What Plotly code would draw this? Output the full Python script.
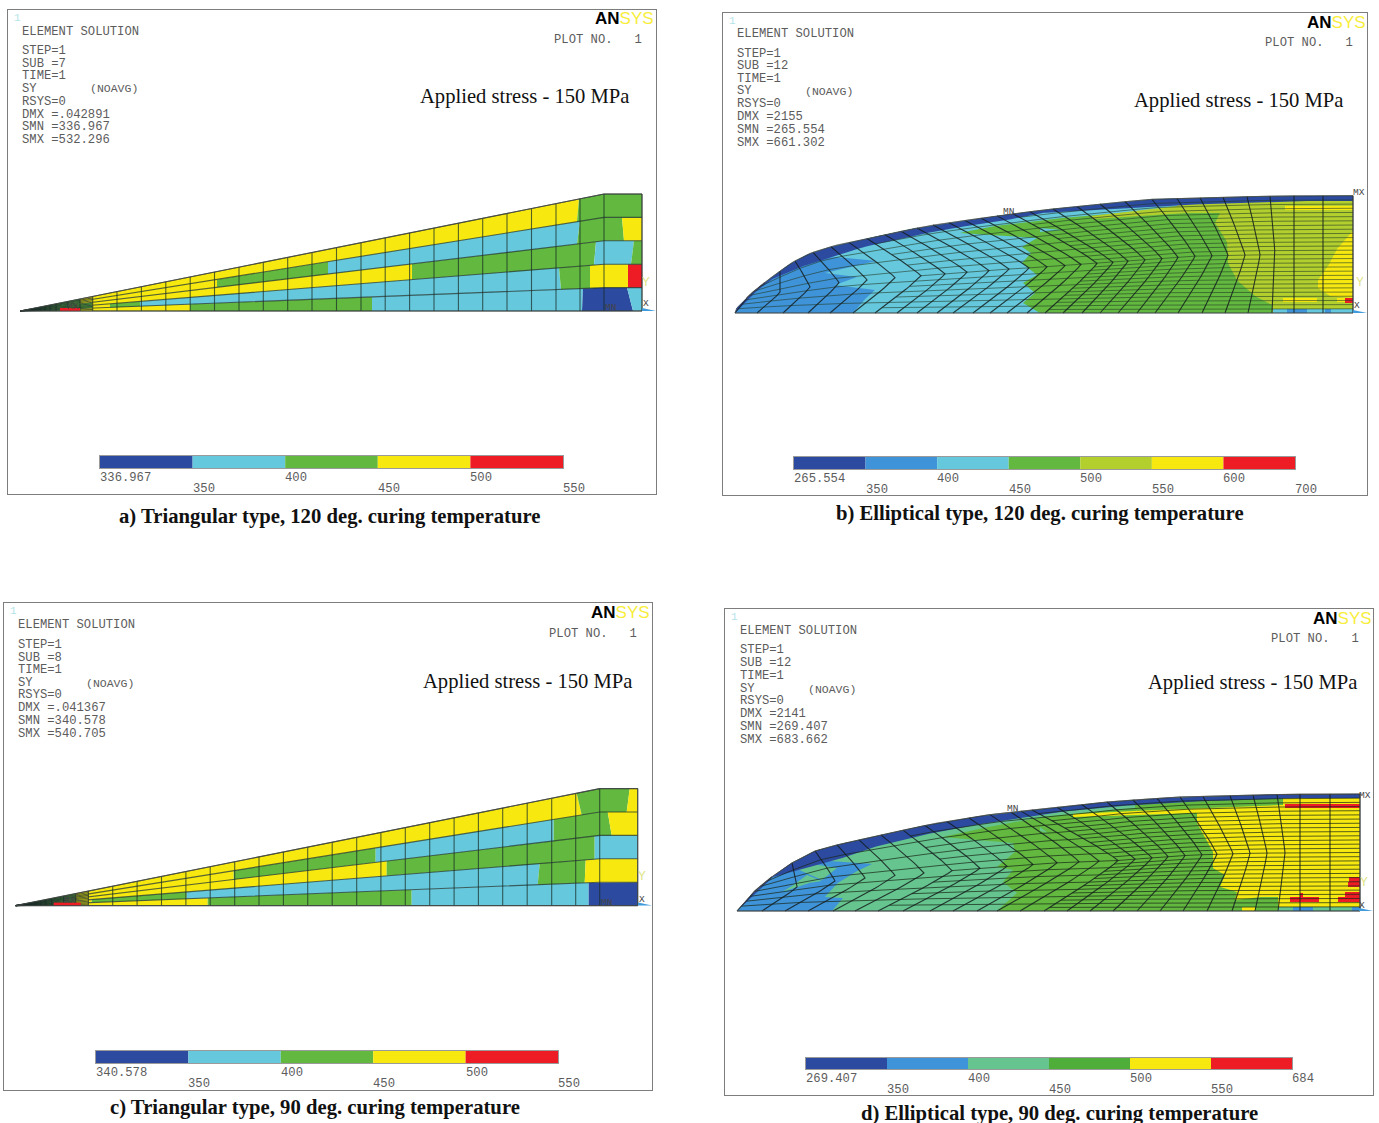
import numpy as np
import plotly.graph_objects as go

W, H = 1379, 1123
NAVY, BLUE, CYAN, TEAL, GREEN, OLIVE, YELLOW, RED = (
    "#2c4aa0", "#3f93d8", "#66c8dc", "#66c48e", "#63b93f", "#b2cf2e", "#f7e90f", "#ee1c24")

# ---------- text ----------
CAPTIONS = ["a) Triangular type, 120 deg. curing temperature",
            "b) Elliptical type, 120 deg. curing temperature",
            "c) Triangular type, 90 deg. curing temperature",
            "d) Elliptical type, 90 deg. curing temperature"]
SUBS = ["SUB =7", "SUB =12", "SUB =8", "SUB =12"]
DMX = ["DMX =.042891", "DMX =2155", "DMX =.041367", "DMX =2141"]
SMN = ["SMN =336.967", "SMN =265.554", "SMN =340.578", "SMN =269.407"]
SMX = ["SMX =532.296", "SMX =661.302", "SMX =540.705", "SMX =683.662"]
LEVEL_LABELS = [["336.967", "350", "400", "450", "500", "550"],
                ["265.554", "350", "400", "450", "500", "550", "600", "700"],
                ["340.578", "350", "400", "450", "500", "550"],
                ["269.407", "350", "400", "450", "500", "550", "684"]]
BAND_COLORS = [[NAVY, CYAN, GREEN, YELLOW, RED],
               [NAVY, BLUE, CYAN, GREEN, OLIVE, YELLOW, RED],
               [NAVY, CYAN, GREEN, YELLOW, RED],
               [NAVY, BLUE, TEAL, "#4fae3a", YELLOW, RED]]

# ---------- triangular model: profile, stations, colour layers ----------
TRI_PROFILE_X = [0, 584, 622]
TRI_PROFILE_Y = [0, 117, 117]
TRI_STATIONS = [5, 10, 15, 20, 25, 30, 36, 48, 60, 72.7, 97, 121.4, 145.8, 170.2, 194.5, 219,
                243.3, 267.7, 292, 316.5, 341, 365.2, 389.6, 414, 438.4, 462.7, 487, 511.5, 536, 560, 584, 622]
# colours and break positions per layer, bottom to top; a pair is (x at lower edge, x at upper edge)
TRI_A = [
    ([GREEN, RED, YELLOW, GREEN, CYAN, NAVY, CYAN],
     [0, 40, 60, 170, 352, (562, 563), (613, 607), 622]),
    ([GREEN, YELLOW, GREEN, CYAN, GREEN, YELLOW, RED],
     [0, 72, 90, 120, (541, 539), 570, 608, 622]),
    ([GREEN, YELLOW, GREEN, CYAN, GREEN],
     [0, 72, 392, (574, 576), (611, 614), 622]),
    ([GREEN, YELLOW, GREEN, CYAN, GREEN, YELLOW],
     [0, 60, 197, 308, (557, 560), (604, 602), 622]),
    ([GREEN, YELLOW, GREEN],
     [0, 60, (557, 559), 622]),
]
TRI_A_RED_SPAN = [40, 60]
TRI_C = [
    ([GREEN, RED, YELLOW, GREEN, CYAN, NAVY],
     [0, 38, 65, 192, 396, 573, 622]),
    ([GREEN, YELLOW, GREEN, CYAN, GREEN, YELLOW],
     [0, 60, 76, 171, (522, 524), (569, 570), 622]),
    ([GREEN, YELLOW, GREEN, CYAN],
     [0, 60, 371, 579, 622]),
    ([GREEN, YELLOW, GREEN, CYAN, GREEN, YELLOW],
     [0, 60, 218, 360, 538, (596, 592), 622]),
    ([GREEN, YELLOW, GREEN, YELLOW],
     [0, 60, (566, 561), (611, 614), 622]),
]
TRI_C_RED_SPAN = [38, 65]

# ---------- elliptical model b ----------
ELL_B_TOP_X = [0, 1.7, 16.7, 35, 56.7, 75, 101.7, 125, 151.7, 175, 198.3, 221.7, 245, 268, 295, 315, 365, 390, 417, 465, 512, 559, 618]
ELL_B_TOP_Y = [0, 5, 19.7, 34.7, 50.3, 59.7, 68, 73, 78.7, 83.7, 88, 91.3, 94.7, 98, 101.3, 103.7, 109, 111.3, 113.7, 115.3, 116.3, 117.3, 117.3]
ELL_B_BASE = [618, 588, 559, 537, 513, 490, 467, 443, 420, 402, 383, 365, 347, 328,
              310, 292, 272, 255, 238, 218, 202, 182, 162, 140, 118, 95, 73, 48, 22, 0]
ELL_B_MID = [618, 588, 559, 540, 525, 510, 493, 477, 460, 443, 427, 410, 393, 378,
             362, 346, 330, 312, 294, 274, 254, 232, 210, 186, 160, 132, 104, 75, 45, 12]
ELL_B_UPPER = [618, 588, 559, 535, 512, 488, 465, 442, 417, 390, 365, 342, 318, 295,
               278, 262, 246, 230, 214, 198, 182, 166, 150, 132, 114, 96, 78, 60, 45, 30]
ELL_B_REGIONS = [
    (GREEN, [(0, 0), (618, 0), (618, 130), (0, 130)]),
    (CYAN, [(118, 0), (305, 0), (288, 10), (300, 20), (288, 30), (302, 38), (287, 50), (296, 60), (287, 66), (302, 75),
            (225, 80), (252, 86), (315, 94), (442, 105), (442, 115), (315, 110), (0, 110)]),
    (CYAN, [(305, 81), (327, 83), (305, 85)]),
    (BLUE, [(0, 0), (118, 0), (128, 12), (140, 23), (100, 28), (122, 36), (90, 40), (141, 52), (105, 56), (70, 55), (40, 50), (0, 20)]),
    (OLIVE, [(357, 94), (442, 100), (485, 100), (480, 90), (492, 71), (493, 50), (502, 33), (518, 18), (537, 8), (537, 0),
             (618, 0), (618, 125), (442, 125), (442, 107), (357, 97)]),
    (YELLOW, [(617, 81), (603, 66), (595, 50), (583, 33), (583, 25), (595, 17), (618, 15), (618, 81)]),
    (YELLOW, [(548, 11), (582, 11), (582, 15), (548, 15)]),
    (YELLOW, [(602, 11), (618, 11), (618, 15), (602, 15)]),
    (YELLOW, [(550, 103), (618, 103), (618, 107), (550, 107)]),
    (RED, [(610, 10), (618, 10), (618, 15), (610, 15)]),
    (CYAN, [(538, 0), (618, 0), (618, 4), (538, 4)]),
    (BLUE, [(552, 0), (572, 0), (572, 4), (552, 4)]),
    (BLUE, [(590, 0), (596, 0), (596, 4), (590, 4)]),
    (NAVY, [(0, 0), (17, 18), (35, 33), (65, 46), (95, 55), (125, 65), (172, 76), (218, 85), (268, 92), (305, 100), (372, 104),
            (442, 108), (505, 110), (552, 112), (618, 112), (618, 135), (0, 135)]),
]

# ---------- elliptical model d ----------
ELL_D_TOP_X = [0, 16, 34.7, 54.7, 78, 99.7, 126, 153, 176, 200, 226, 250, 276, 313, 343, 370, 396, 443, 493, 563, 623]
ELL_D_TOP_Y = [0, 18, 34, 48, 60, 66, 72, 78, 83, 88, 92, 96, 99, 103, 106, 109, 111, 114, 115.3, 117, 117]
ELL_D_BASE = [623, 593, 563, 541, 518, 495, 470, 446, 423, 400, 376, 353, 330,
              307, 283, 260, 240, 216, 193, 166, 141, 118, 96, 71, 48, 25, 0]
ELL_D_MID = [623, 593, 563, 548, 530, 513, 496, 480, 465, 448, 431, 415, 398,
             381, 362, 342, 320, 296, 270, 243, 215, 187, 158, 128, 98, 60, 15]
ELL_D_UPPER = [623, 593, 563, 540, 516, 493, 466, 443, 420, 396, 370, 345, 320,
               295, 284, 274, 253, 232, 210, 188, 166, 144, 122, 100, 78, 55, 35]
ELL_D_REGIONS = [
    (GREEN, [(0, 0), (623, 0), (623, 130), (0, 130)]),
    (TEAL, [(95, 0), (260, 0), (280, 18), (266, 29), (276, 41), (260, 44), (278, 59), (276, 68), (206, 74), (236, 81),
            (303, 94), (398, 103), (398, 115), (303, 110), (0, 110)]),
    (TEAL, [(303, 80), (311, 78), (303, 84)]),
    (BLUE, [(0, 0), (95, 0), (106, 13), (88, 14), (98, 26), (116, 38), (135, 47), (100, 50), (70, 50), (0, 30)]),
    (TEAL, [(45, 19), (71, 28), (85, 30), (70, 36), (60, 28)]),
    (TEAL, [(60, 42), (85, 31), (100, 43), (70, 48)]),
    (YELLOW, [(336, 94), (460, 98), (460, 88), (476, 59), (476, 43), (488, 36), (483, 24), (500, 19), (498, 11), (520, 14),
              (541, 14), (541, 0), (623, 0), (623, 125), (546, 125), (546, 106), (460, 103), (336, 97)]),
    (YELLOW, [(505, 0), (518, 0), (518, 4), (505, 4)]),
    (RED, [(548, 103), (623, 103), (623, 107), (548, 107)]),
    (RED, [(612, 29), (623, 29), (623, 34), (612, 34)]),
    (RED, [(611, 24), (623, 24), (623, 29), (611, 29)]),
    (RED, [(608, 14), (623, 14), (623, 19), (608, 19)]),
    (RED, [(601, 9), (623, 9), (623, 14), (601, 14)]),
    (RED, [(553, 9), (582, 9), (582, 14), (566, 14), (566, 18), (563, 18), (563, 14), (553, 14)]),
    (TEAL, [(541, 0), (623, 0), (623, 4), (541, 4)]),
    (BLUE, [(556, 0), (576, 0), (576, 4), (556, 4)]),
    (BLUE, [(615, 0), (623, 0), (623, 4), (615, 4)]),
    (NAVY, [(0, 0), (36, 34), (73, 44), (100, 51), (133, 63), (176, 74), (226, 84), (276, 92), (313, 98), (370, 104),
            (443, 109), (550, 113), (623, 113), (623, 135), (0, 135)]),
]

# ---------- page layout (pixels) ----------
FRAMES = [(8, 656, 10, 494), (723, 1367, 13, 495), (4, 652, 603, 1090), (725, 1373, 609, 1095)]
ORIGINS = [(20, 311), (735, 313), (15.7, 905.6), (737, 911)]
BARS = [(100, 563, 456, 468), (794, 1295, 457, 469), (96, 558, 1051, 1063), (806, 1292, 1058, 1069)]
TEXT_X = [22, 737, 18, 740]
TEXT_Y = [(32, 51, 64, 76, 89, 102, 115, 127, 140), (34, 54, 66, 79, 91, 104, 117, 130, 143),
          (625, 645, 658, 670, 683, 695, 708, 721, 734), (631, 650, 663, 676, 689, 701, 714, 727, 740)]
NOAVG_X = [90, 805, 86, 808]
LOGO = [(654, 19), (1366, 22), (650, 612), (1372, 618)]
PLOT_NO = [(554, 40), (1265, 43), (549, 634), (1271, 639)]
APPLIED = [(629, 97), (1343, 101), (632, 681), (1357, 682)]
CAPTION = [(329, 516), (1040, 513), (315, 1107), (1059, 1113)]
MARKS = [[("MN", 610, 307), ("MX", 73, 306), ("X", 646, 304)],
         [("MN", 1008, 211), ("MX", 1359, 193), ("X", 1357, 305)],
         [("MN", 606, 902), ("MX", 70, 900), ("X", 642, 899)],
         [("MN", 1012, 808), ("MX", 1365, 795), ("X", 1362, 905)]]
Y_MARK = [(646, 282), (1360, 283), (642, 876), (1364, 882)]

fig = go.Figure()
annotations = []
layout = {}
MONO = "Liberation Mono"
SERIF = "Liberation Serif"
TXT = "#5c5c5c"


def note(text, px, py, font=MONO, size=12.2, color=TXT, anchor="left"):
    annotations.append(dict(text=text, x=px / W, y=1 - py / H, xref="paper", yref="paper", showarrow=False,
                            xanchor=anchor, yanchor="middle", font=dict(family=font, size=size, color=color),
                            borderpad=0, borderwidth=0))


def poly(axis, xs, ys, color):
    fig.add_trace(go.Scatter(x=list(xs), y=list(ys), xaxis=f"x{axis}", yaxis=f"y{axis}", mode="lines",
                             fill="toself", fillcolor=color, line=dict(width=0, color=color),
                             hoverinfo="skip", showlegend=False))


def mesh(axis, xs, ys, color="rgba(30,40,40,0.8)", width=1.0):
    fig.add_trace(go.Scatter(x=xs, y=ys, xaxis=f"x{axis}", yaxis=f"y{axis}", mode="lines",
                             line=dict(width=width, color=color), hoverinfo="skip", showlegend=False))


def draw_triangular(axis, layers, red_span):
    top = lambda x: np.interp(x, TRI_PROFILE_X, TRI_PROFILE_Y)
    n = len(layers)
    for k, (colors, breaks) in enumerate(layers):
        lo, hi = k / n, (k + 1) / n
        for c, a, b in zip(colors, breaks[:-1], breaks[1:]):
            a0, a1 = a if isinstance(a, tuple) else (a, a)
            b0, b1 = b if isinstance(b, tuple) else (b, b)
            lower = [a0] + [p for p in TRI_PROFILE_X if a0 < p < b0] + [b0]
            upper = [b1] + [p for p in TRI_PROFILE_X[::-1] if b1 > p > a1] + [a1]
            px = lower + upper
            py = [lo * top(x) for x in lower] + [hi * top(x) for x in upper]
            poly(axis, px, py, c)
    lx, ly = [], []
    for s in TRI_STATIONS:
        lx += [s, s, None]
        ly += [0, float(top(s)), None]
    for k in range(n + 1):
        pts = [0] + TRI_PROFILE_X[1:]
        lx += pts + [None]
        ly += [k / n * top(x) for x in pts] + [None]
    for f in (0.1, 0.3, 0.5, 0.7, 0.9):
        lx += [0, 72.7, None]
        ly += [0, f * float(top(72.7)), None]
    mesh(axis, lx, ly, "rgba(25,45,40,0.72)", 1.1)
    poly(axis, [red_span[0], red_span[1], red_span[1], red_span[0]], [0, 0, 3, 3], RED)
    mesh(axis, [0] + TRI_PROFILE_X[1:] + [622, 0], [0, 117, 117, 0, 0], "rgba(70,70,70,0.8)", 1)


def clip_polygon(vertices, tx, ty):
    xs, ys = [], []
    closed = vertices + vertices[:1]
    for (x0, y0), (x1, y1) in zip(closed[:-1], closed[1:]):
        steps = max(2, int(max(abs(x1 - x0), abs(y1 - y0)) / 2))
        for t in np.linspace(0, 1, steps, endpoint=False):
            x = x0 + (x1 - x0) * t
            y = y0 + (y1 - y0) * t
            xs.append(float(x))
            ys.append(float(min(y, np.interp(x, tx, ty))))
    return xs, ys


def draw_elliptical(axis, regions, tx, ty, base, mid, upper, fine_until, medium_until, row_color):
    for c, verts in regions:
        xs, ys = clip_polygon(verts, tx, ty)
        poly(axis, xs, ys, c)
    rows = 28
    vs = np.linspace(0, 1, rows + 1)
    grid_x = np.zeros((len(base), rows + 1))
    grid_y = np.zeros((len(base), rows + 1))
    for i, (b, m, u) in enumerate(zip(base, mid, upper)):
        top_h = float(np.interp(u, tx, ty))
        for j, v in enumerate(vs):
            t = abs(2 * v - 1) ** 1.1
            end = u if v > 0.5 else b
            grid_x[i, j] = m + (end - m) * t
            grid_y[i, j] = v * top_h
    rx, ry, sx, sy = [], [], [], []
    for j in range(rows + 1):
        if j % 4 == 0:
            last = len(base)
        elif j % 2 == 0:
            last = medium_until
        else:
            last = fine_until
        rx += list(grid_x[:last, j]) + [None]
        ry += list(grid_y[:last, j]) + [None]
    for i in range(len(base)):
        sx += list(grid_x[i]) + [None]
        sy += list(grid_y[i]) + [None]
    mesh(axis, rx, ry, row_color, 1.0)
    mesh(axis, sx, sy, "rgba(20,30,30,0.85)", 1.1)
    ox = list(tx) + [tx[-1], 0]
    oy = list(ty) + [0, 0]
    mesh(axis, ox, oy, "rgba(80,80,90,0.7)", 1)


for p in range(4):
    ax = p + 1
    l, r, t, b = FRAMES[p]
    ox, oy = ORIGINS[p]
    frame_style = dict(showgrid=False, zeroline=False, showticklabels=False, ticks="", mirror=True,
                       showline=True, linecolor="#7d7d7d", linewidth=1)
    layout[f"xaxis{ax}"] = dict(domain=[l / W, r / W], range=[l - ox, r - ox], anchor=f"y{ax}", **frame_style)
    layout[f"yaxis{ax}"] = dict(domain=[1 - b / H, 1 - t / H], range=[oy - b, oy - t], anchor=f"x{ax}", **frame_style)

    if p == 0:
        draw_triangular(ax, TRI_A, TRI_A_RED_SPAN)
    elif p == 2:
        draw_triangular(ax, TRI_C, TRI_C_RED_SPAN)
    elif p == 1:
        draw_elliptical(ax, ELL_B_REGIONS, ELL_B_TOP_X, ELL_B_TOP_Y, ELL_B_BASE, ELL_B_MID, ELL_B_UPPER, 15, 24,
                        "rgba(35,60,40,0.6)")
    else:
        draw_elliptical(ax, ELL_D_REGIONS, ELL_D_TOP_X, ELL_D_TOP_Y, ELL_D_BASE, ELL_D_MID, ELL_D_UPPER, 14, 21,
                        "rgba(25,40,25,0.72)")

    # coordinate triad arrow
    end = r - ox
    poly(ax, [end - 14, end, end - 14], [0, 0, 3], "#3f9bdc")

    # colour legend
    cax = ax + 4
    l2, r2, t2, b2 = BARS[p]
    cols = BAND_COLORS[p]
    fig.add_trace(go.Bar(x=[1] * len(cols), y=[0] * len(cols), base=list(range(len(cols))), orientation="h",
                         width=1, marker=dict(color=cols, line=dict(width=0)), xaxis=f"x{cax}", yaxis=f"y{cax}",
                         hoverinfo="skip", showlegend=False))
    bar_style = dict(showgrid=False, zeroline=False, showticklabels=False, ticks="", mirror=True,
                     showline=True, linecolor="#9a9a9a", linewidth=1)
    layout[f"xaxis{cax}"] = dict(domain=[l2 / W, r2 / W], range=[0, len(cols)], anchor=f"y{cax}", **bar_style)
    layout[f"yaxis{cax}"] = dict(domain=[1 - b2 / H, 1 - t2 / H], range=[-0.5, 0.5], anchor=f"x{cax}", **bar_style)
    labels = LEVEL_LABELS[p]
    step = len(cols) / (len(labels) - 1)
    for k, lab in enumerate(labels):
        annotations.append(dict(text=lab, x=k * step, xref=f"x{cax}", y=1 - (b2 + (10 if k % 2 == 0 else 21)) / H,
                                yref="paper", showarrow=False, xanchor="left", yanchor="middle", xshift=-1,
                                borderpad=0, font=dict(family=MONO, size=12.2, color=TXT)))

    # ANSYS header text
    tx, ys = TEXT_X[p], TEXT_Y[p]
    note("1", l + 6, t + 8, color="#b5e3ea", size=11)
    lines = ["ELEMENT SOLUTION", "STEP=1", SUBS[p], "TIME=1", "SY", "RSYS=0", DMX[p], SMN[p], SMX[p]]
    for s, y in zip(lines, ys):
        note(s, tx, y)
    note("(NOAVG)", NOAVG_X[p], ys[4], size=11.5)
    note("<b><span style='color:#000'>AN</span></b><span style='color:#f7ee3c'>SYS</span>", LOGO[p][0], LOGO[p][1],
         font="Liberation Sans", size=17, anchor="right")
    note("PLOT NO.   1", PLOT_NO[p][0], PLOT_NO[p][1])
    note("Applied stress - 150 MPa", APPLIED[p][0], APPLIED[p][1], font=SERIF, size=20.6, color="#111", anchor="right")
    note(f"<b>{CAPTIONS[p]}</b>", CAPTION[p][0], CAPTION[p][1], font=SERIF, size=20.7, color="#111", anchor="center")
    for s, mx, my in MARKS[p]:
        note(s, mx, my, size=9.5, color="#444", anchor="center")
    note("Y", Y_MARK[p][0], Y_MARK[p][1], size=13, color="#dfe58a", anchor="center")

fig.update_layout(width=W, height=H, margin=dict(l=0, r=0, t=0, b=0), paper_bgcolor="white", plot_bgcolor="white",
                  showlegend=False, annotations=annotations, **layout)
fig.write_html("out.html", post_script="document.body.style.margin='0';document.body.style.overflow='hidden';",
               config={"displayModeBar": False})
